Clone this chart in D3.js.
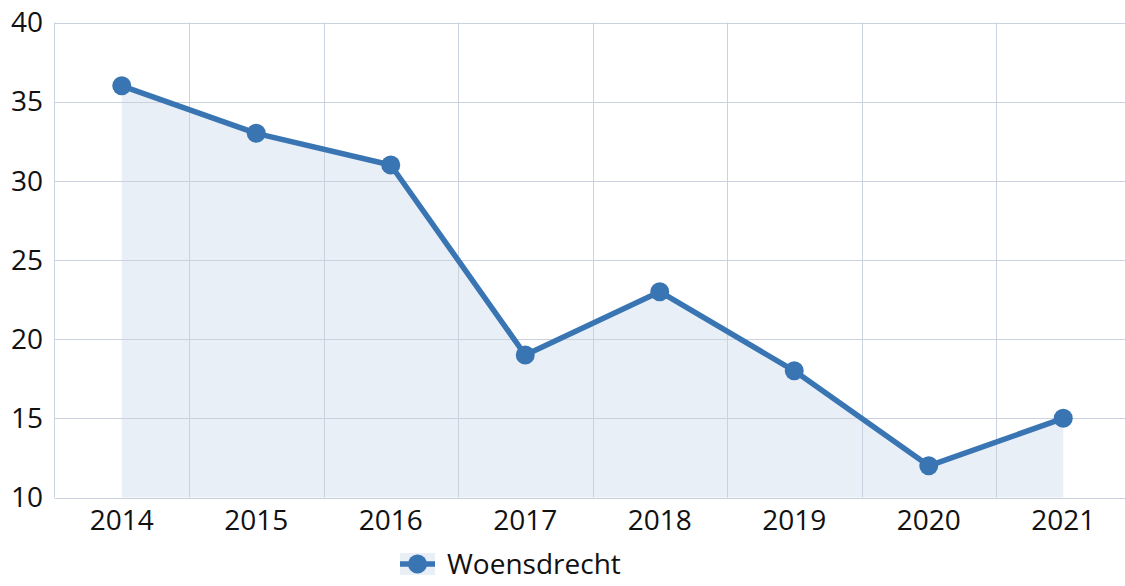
<!DOCTYPE html>
<html>
<head>
<meta charset="utf-8">
<script src="https://cdn.jsdelivr.net/npm/d3@7"></script>
<style>
  html, body { margin: 0; padding: 0; background: #fff; overflow: hidden; }
  svg { display: block; font-family: "Open Sans", "Noto Sans", sans-serif; }
</style>
</head>
<body>
<div id="chart"></div>
<script>
const years = ["2014", "2015", "2016", "2017", "2018", "2019", "2020", "2021"];
const values = [36, 33, 31, 19, 23, 18, 12, 15];
const yTicks = [10, 15, 20, 25, 30, 35, 40];
const seriesName = "Woensdrecht";

const size = { x: 1125, y: 586 };
const plot = { left: 54.5, right: 1130.5, top: 22.5, bottom: 497.5 };
const lineColor = "#3a75b3";
const gridColor = "#c9d2de";
const fontSize = 28;

const svg = d3.select("#chart")
  .append("svg")
  .attr("width", size.x)
  .attr("height", size.y);

const xScale = d3.scaleBand()
  .domain(years)
  .range([plot.left, plot.right]);

const yScale = d3.scaleLinear()
  .domain([10, 40])
  .range([plot.bottom, plot.top]);

const cx = d => xScale(d) + xScale.bandwidth() / 2;

// area under the line
const area = d3.area()
  .x((d, i) => cx(years[i]))
  .y0(yScale(10))
  .y1(d => yScale(d));

svg.append("path")
  .datum(values)
  .attr("d", area)
  .attr("fill", "#e8eff7");

// grid
svg.append("g")
  .selectAll("line")
  .data(yTicks)
  .join("line")
  .attr("x1", plot.left)
  .attr("x2", plot.right)
  .attr("y1", d => Math.round(yScale(d)) + 0.5)
  .attr("y2", d => Math.round(yScale(d)) + 0.5)
  .attr("stroke", gridColor);

svg.append("g")
  .selectAll("line")
  .data(years.slice(1))
  .join("line")
  .attr("x1", d => Math.round(xScale(d)) + 0.5)
  .attr("x2", d => Math.round(xScale(d)) + 0.5)
  .attr("y1", plot.top)
  .attr("y2", plot.bottom)
  .attr("stroke", gridColor);

svg.append("line")
  .attr("x1", plot.left).attr("x2", plot.left)
  .attr("y1", plot.top).attr("y2", plot.bottom)
  .attr("stroke", gridColor);

// line + markers
const line = d3.line()
  .x((d, i) => cx(years[i]))
  .y(d => yScale(d));

svg.append("path")
  .datum(values)
  .attr("d", line)
  .attr("fill", "none")
  .attr("stroke", lineColor)
  .attr("stroke-width", 5.5)
  .attr("stroke-linejoin", "round");

svg.append("g")
  .selectAll("circle")
  .data(values)
  .join("circle")
  .attr("cx", (d, i) => cx(years[i]))
  .attr("cy", d => yScale(d))
  .attr("r", 9.5)
  .attr("fill", lineColor);

// y labels
svg.append("g")
  .selectAll("text")
  .data(yTicks)
  .join("text")
  .attr("x", 43)
  .attr("y", d => yScale(d))
  .attr("dy", "0.35em")
  .attr("text-anchor", "end")
  .attr("font-size", fontSize)
  .attr("fill", "#111")
  .text(d => d);

// x labels
svg.append("g")
  .selectAll("text")
  .data(years)
  .join("text")
  .attr("x", d => cx(d))
  .attr("y", 520)
  .attr("dy", "0.35em")
  .attr("text-anchor", "middle")
  .attr("font-size", fontSize)
  .attr("fill", "#111")
  .text(d => d);

// legend
const legend = svg.append("g").attr("transform", "translate(400, 564)");
legend.append("rect")
  .attr("x", 0).attr("y", -11)
  .attr("width", 35).attr("height", 22)
  .attr("fill", "#e8eff7");
legend.append("line")
  .attr("x1", 0).attr("x2", 35)
  .attr("stroke", lineColor)
  .attr("stroke-width", 5.5);
legend.append("circle")
  .attr("cx", 17.5)
  .attr("r", 9.5)
  .attr("fill", lineColor);
legend.append("text")
  .attr("x", 47)
  .attr("dy", "0.35em")
  .attr("font-size", fontSize)
  .attr("fill", "#111")
  .text(seriesName);
</script>
</body>
</html>
